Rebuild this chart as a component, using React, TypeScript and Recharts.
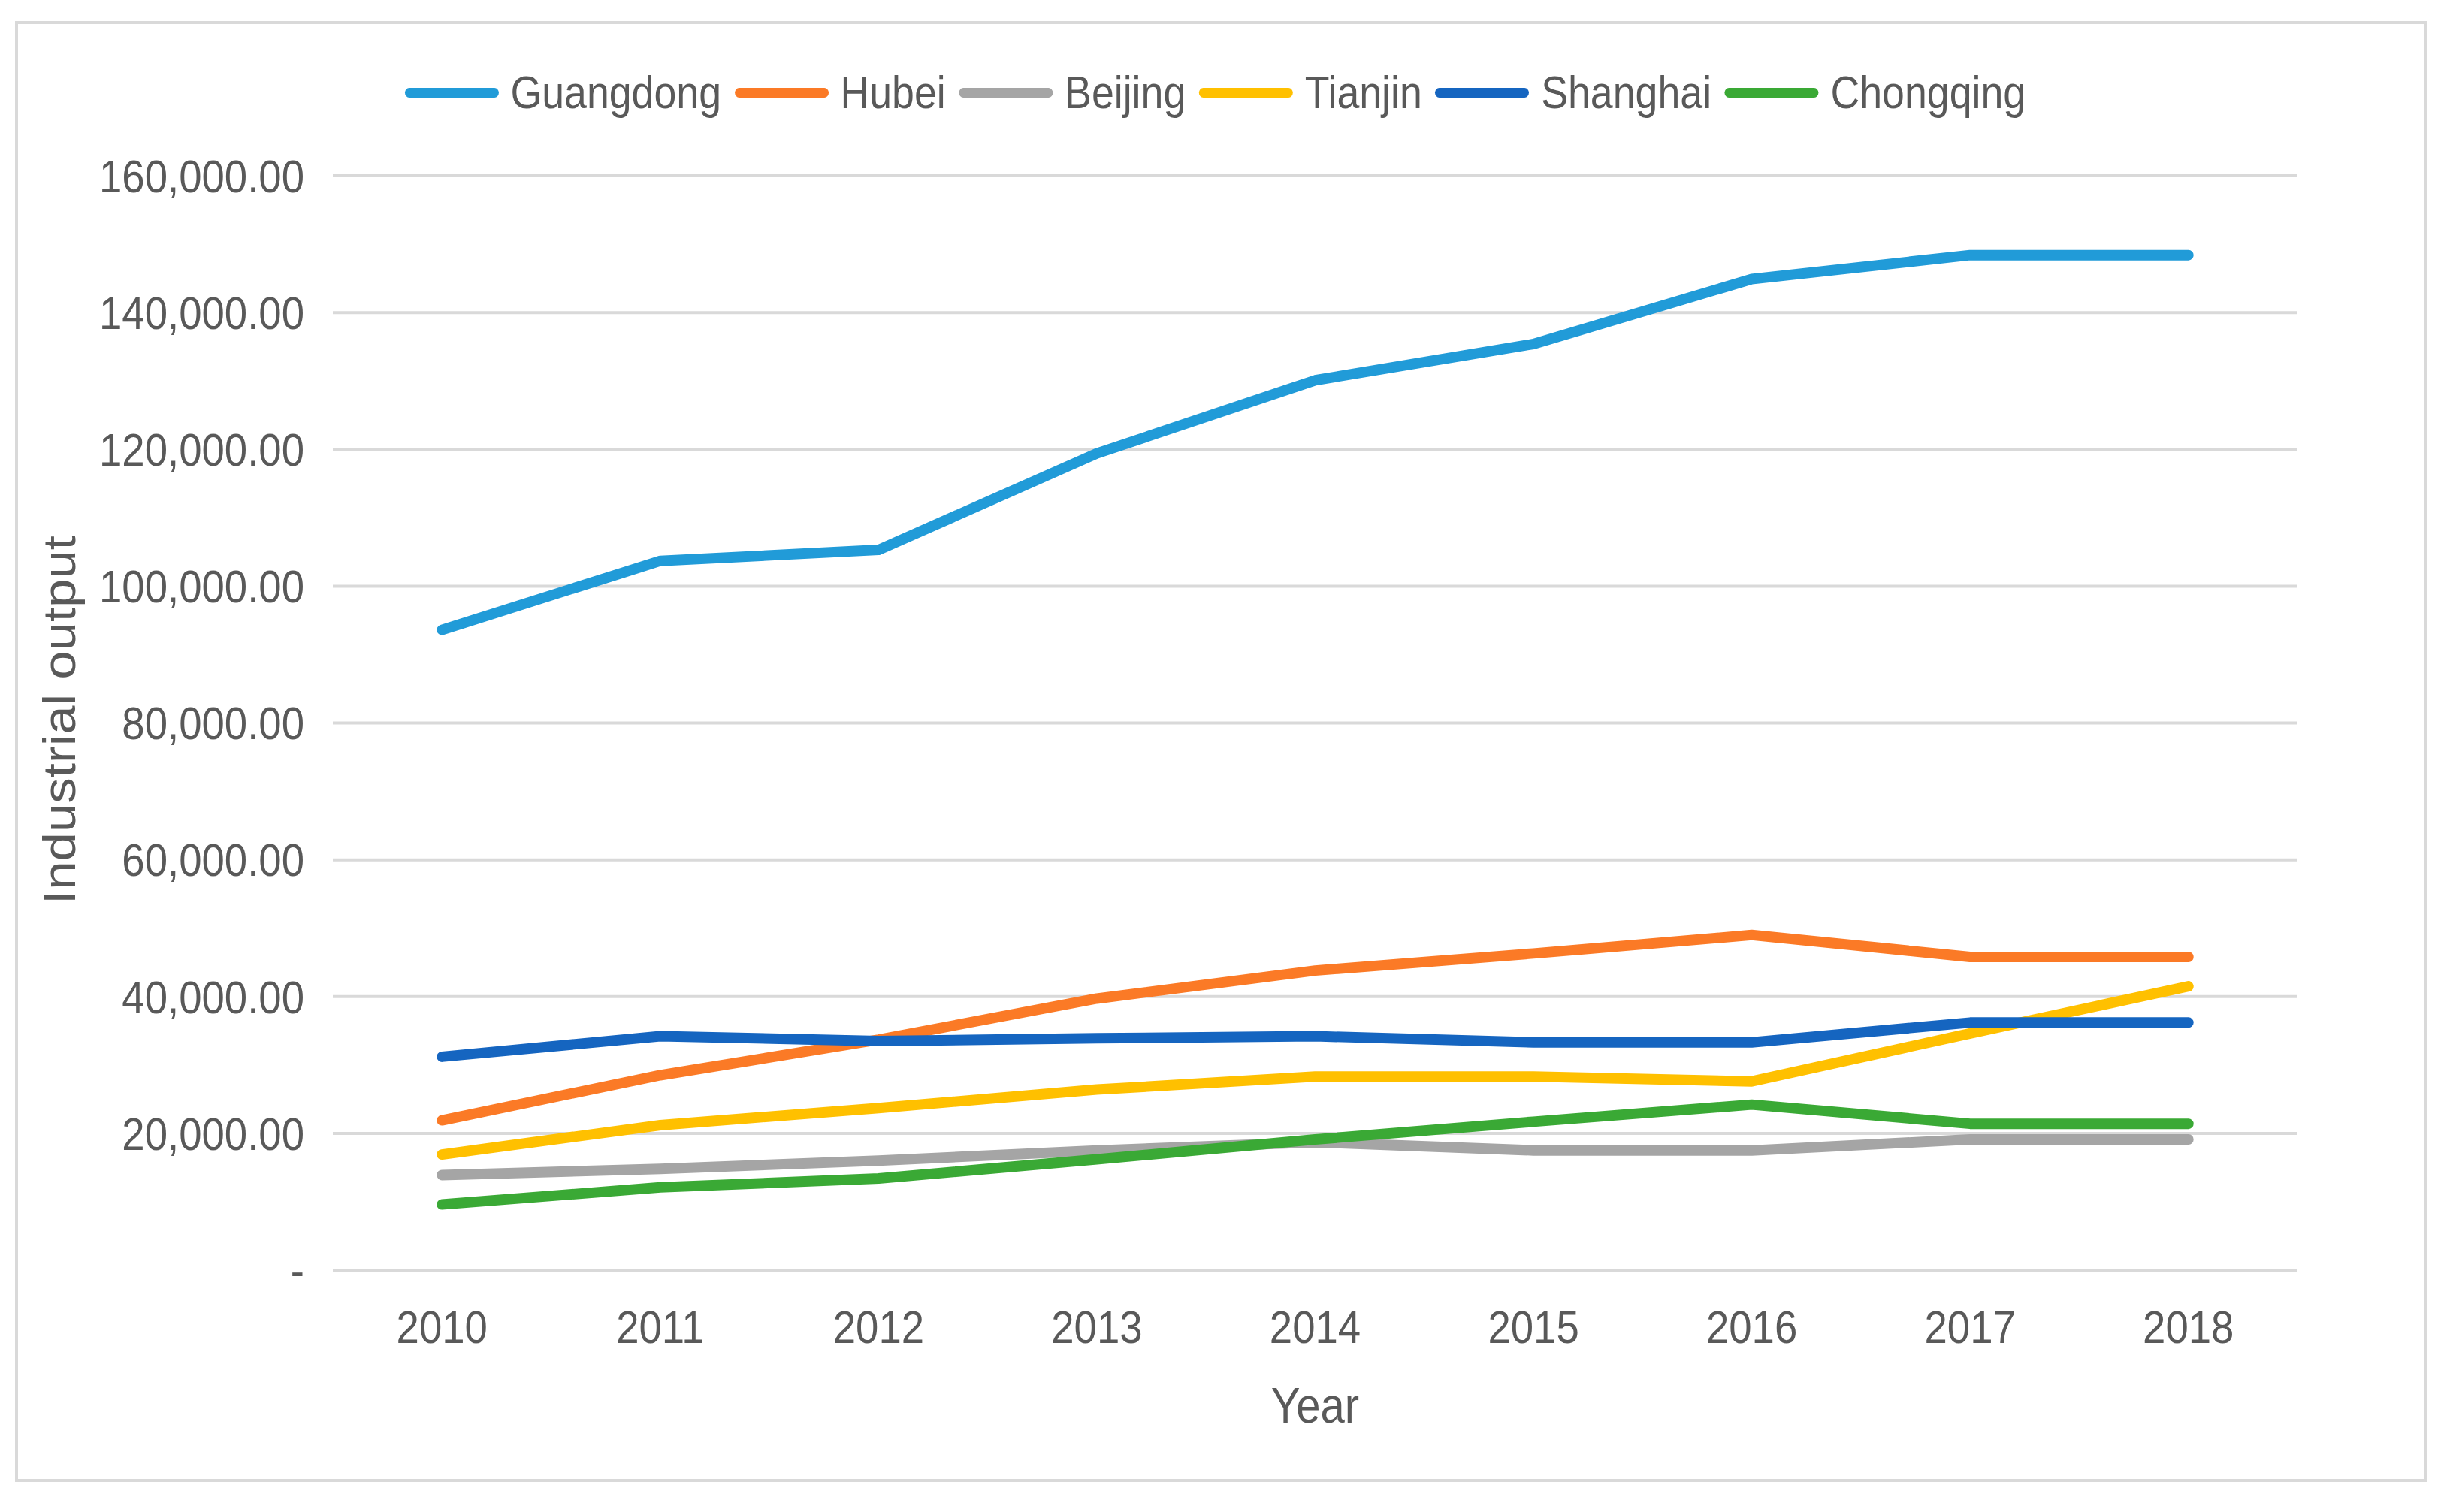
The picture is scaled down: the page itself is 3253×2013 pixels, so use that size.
import { CartesianGrid, Label, Legend, Line, LineChart, XAxis, YAxis } from "recharts";

const YEARS = ["2010", "2011", "2012", "2013", "2014", "2015", "2016", "2017", "2018"];
const GUANGDONG = [93600, 103700, 105300, 119400, 130100, 135400, 144900, 148400, 148400];
const HUBEI = [21900, 28500, 33700, 39700, 43800, 46300, 49000, 45800, 45800];
const BEIJING = [13900, 14800, 16000, 17500, 18700, 17500, 17500, 19100, 19100];
const TIANJIN = [16900, 21200, 23700, 26400, 28300, 28300, 27600, 34600, 41500];
const SHANGHAI = [31200, 34200, 33500, 33900, 34200, 33300, 33300, 36200, 36200];
const CHONGQING = [9600, 12100, 13400, 16200, 19100, 21700, 24200, 21400, 21400];
const Y_TICKS = [0, 20000, 40000, 60000, 80000, 100000, 120000, 140000, 160000];

const SERIES = [
  { key: "Guangdong", values: GUANGDONG, color: "#219bd8" },
  { key: "Hubei", values: HUBEI, color: "#fb7a26" },
  { key: "Beijing", values: BEIJING, color: "#a5a5a5" },
  { key: "Tianjin", values: TIANJIN, color: "#ffc000" },
  { key: "Shanghai", values: SHANGHAI, color: "#1565c0" },
  { key: "Chongqing", values: CHONGQING, color: "#3aa935" },
];

const data = YEARS.map((year, i) => {
  const row: Record<string, string | number> = { year };
  SERIES.forEach((s) => (row[s.key] = s.values[i]));
  return row;
});

const W = 3253;
const H = 2013;
const FONT = "'Liberation Sans', Arial, sans-serif";
const TEXT = "#595959";
// the source picture is squeezed sideways a little, text looks narrow
const SQ = 0.88;

const fmt = (v: number) =>
  v === 0 ? "-" : v.toLocaleString("en-US", { minimumFractionDigits: 2, maximumFractionDigits: 2 });

function YTick({ x, y, payload }: any) {
  return (
    <text
      transform={`translate(${x} ${y}) scale(${SQ} 1)`}
      textAnchor="end"
      dominantBaseline="central"
      fill={TEXT}
      fontSize={62}
    >
      {fmt(payload.value)}
    </text>
  );
}

function XTick({ x, y, payload }: any) {
  return (
    <text
      transform={`translate(${x} ${y}) scale(${SQ} 1)`}
      textAnchor="middle"
      dy="0.71em"
      fill={TEXT}
      fontSize={62}
    >
      {payload.value}
    </text>
  );
}

function LegendRow() {
  return (
    <div
      style={{
        display: "flex",
        justifyContent: "center",
        alignItems: "center",
        fontFamily: FONT,
        transform: `scaleX(${SQ})`,
        transformOrigin: "1624px 50%",
      }}
    >
      {SERIES.map((s) => (
        <div key={s.key} style={{ display: "flex", alignItems: "center", marginRight: 20 }}>
          <span
            style={{ width: 142, height: 13, borderRadius: 7, background: s.color, marginRight: 18 }}
          />
          <span style={{ fontSize: 61, color: TEXT, lineHeight: "66px" }}>{s.key}</span>
        </div>
      ))}
    </div>
  );
}

export default function App() {
  return (
    <div style={{ position: "absolute", left: 0, top: 0, width: W, height: H, background: "#fff" }}>
      {/* outer frame */}
      <div
        style={{
          position: "absolute",
          left: 20,
          top: 28,
          width: 3210,
          height: 1945,
          border: "4px solid #d9d9d9",
          boxSizing: "border-box",
        }}
      />
      <div style={{ position: "absolute", left: 0, top: 0 }}>
        <LineChart
          width={W}
          height={H}
          data={data}
          margin={{ top: 234, right: 195, bottom: 122, left: 0 }}
          style={{ fontFamily: FONT }}
        >
          <CartesianGrid vertical={false} stroke="#d9d9d9" strokeWidth={4} />
          <XAxis
            dataKey="year"
            scale="band"
            height={200}
            axisLine={false}
            tickLine={false}
            tickSize={0}
            tickMargin={53}
            tick={<XTick />}
            interval={0}
          >
            <Label
              content={({ viewBox }: any) => {
                const cx = viewBox.x + viewBox.width / 2;
                const cy = viewBox.y + 180;
                return (
                  <text
                    transform={`translate(${cx} ${cy}) scale(${SQ} 1)`}
                    textAnchor="middle"
                    dominantBaseline="central"
                    fill={TEXT}
                    fontSize={66}
                  >
                    Year
                  </text>
                );
              }}
            />
          </XAxis>
          <YAxis
            width={443}
            domain={[0, 160000]}
            ticks={Y_TICKS}
            axisLine={false}
            tickLine={false}
            tickSize={0}
            tickMargin={38}
            tick={<YTick />}
          >
            <Label
              content={({ viewBox }: any) => {
                const cx = viewBox.x + 79;
                const cy = viewBox.y + viewBox.height / 2 - 4;
                return (
                  <text
                    transform={`translate(${cx} ${cy}) scale(${SQ} 1) rotate(-90)`}
                    textAnchor="middle"
                    dominantBaseline="central"
                    fill={TEXT}
                    fontSize={69}
                  >
                    Industrial output
                  </text>
                );
              }}
            />
          </YAxis>
          <Legend
            verticalAlign="middle"
            align="center"
            content={() => <LegendRow />}
            wrapperStyle={{ top: 90, left: 0, width: W }}
          />
          {SERIES.map((s) => (
            <Line
              key={s.key}
              type="linear"
              dataKey={s.key}
              stroke={s.color}
              strokeWidth={14}
              strokeLinecap="round"
              strokeLinejoin="round"
              dot={false}
              activeDot={false}
              isAnimationActive={false}
            />
          ))}
        </LineChart>
      </div>
    </div>
  );
}
